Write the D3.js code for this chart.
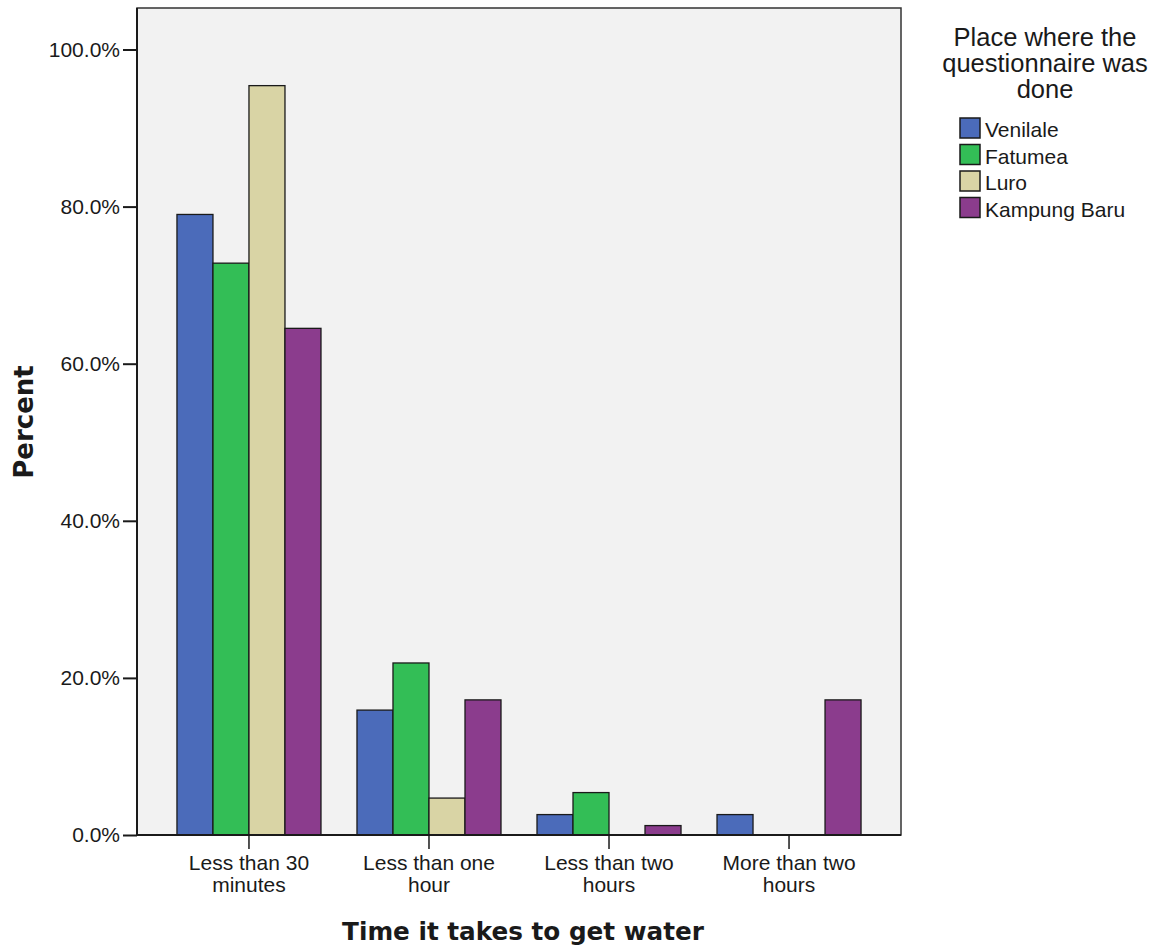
<!DOCTYPE html>
<html>
<head>
<meta charset="utf-8">
<script src="https://cdn.jsdelivr.net/npm/d3@7"></script>
<style>
  html, body { margin: 0; padding: 0; background: #ffffff; }
  svg { display: block; }
  text { fill: #1a1a1a; }
</style>
</head>
<body>
<svg id="chart" width="1156" height="950"></svg>
<script>
// ---- data ----
const categories = [
  ["Less than 30", "minutes"],
  ["Less than one", "hour"],
  ["Less than two", "hours"],
  ["More than two", "hours"]
];
const seriesNames = ["Venilale", "Fatumea", "Luro", "Kampung Baru"];
const seriesColors = ["#4B6BBA", "#33BE56", "#D9D4A5", "#8B3C8D"];
const venilale    = [79.0, 15.9, 2.6, 2.6];
const fatumea     = [72.8, 21.9, 5.4, 0.0];
const luro        = [95.4, 4.7, 0.0, 0.0];
const kampungBaru = [64.5, 17.2, 1.2, 17.2];
const yTicks = [0, 20, 40, 60, 80, 100];
const xTitle = "Time it takes to get water";
const yTitle = "Percent";
const legendTitle = ["Place where the", "questionnaire was", "done"];

const seriesValues = [venilale, fatumea, luro, kampungBaru];

// ---- layout ----
const svg = d3.select("#chart");
const plot = { left: 137, right: 901, top: 8, bottom: 835 };
const catKeys = categories.map((c, i) => i);

const x0 = d3.scaleBand().domain(catKeys).range([plot.left, plot.right])
  .paddingInner(0.2).paddingOuter(0.222);
const x1 = d3.scaleBand().domain(seriesNames).range([0, x0.bandwidth()]).padding(0);
const y = d3.scaleLinear().domain([0, 100]).range([plot.bottom, 49.5]);
const color = d3.scaleOrdinal().domain(seriesNames).range(seriesColors);

// plot background
svg.append("rect")
  .attr("x", plot.left).attr("y", plot.top)
  .attr("width", plot.right - plot.left).attr("height", plot.bottom - plot.top)
  .attr("fill", "#F2F2F2").attr("stroke", "#333").attr("stroke-width", 1.5);

// bars
const cells = [];
catKeys.forEach(ci => {
  seriesNames.forEach((s, si) => {
    cells.push({ cat: ci, series: s, value: seriesValues[si][ci] });
  });
});
svg.append("g").selectAll("rect")
  .data(cells.filter(d => d.value > 0))
  .join("rect")
  .attr("x", d => x0(d.cat) + x1(d.series))
  .attr("y", d => y(d.value))
  .attr("width", x1.bandwidth())
  .attr("height", d => y(0) - y(d.value))
  .attr("fill", d => color(d.series))
  .attr("stroke", "#1a1a1a").attr("stroke-width", 1.3);

// y axis
const yAxis = svg.append("g")
  .attr("transform", `translate(${plot.left},0)`)
  .call(d3.axisLeft(y).tickValues(yTicks).tickSize(14).tickPadding(3)
    .tickFormat(d => d.toFixed(1) + "%"));
yAxis.select(".domain").attr("d", `M0,${plot.top}V${plot.bottom}`)
  .attr("stroke", "#1a1a1a").attr("stroke-width", 2);
yAxis.selectAll(".tick line").attr("stroke", "#1a1a1a").attr("stroke-width", 2);
yAxis.selectAll(".tick text")
  .attr("font-family", "'Liberation Sans', Arial, sans-serif")
  .attr("font-size", 21).attr("fill", "#1a1a1a");

// x axis
const xAxis = svg.append("g")
  .attr("transform", `translate(0,${plot.bottom})`)
  .call(d3.axisBottom(x0).tickSize(14).tickFormat(""));
xAxis.select(".domain").attr("d", `M${plot.left},0H${plot.right}`)
  .attr("stroke", "#1a1a1a").attr("stroke-width", 2);
xAxis.selectAll(".tick line").attr("stroke", "#1a1a1a").attr("stroke-width", 1.5);
xAxis.selectAll(".tick").each(function (d) {
  const t = d3.select(this).append("text")
    .attr("text-anchor", "middle")
    .attr("font-family", "'Liberation Sans', Arial, sans-serif")
    .attr("font-size", 21).attr("fill", "#1a1a1a");
  categories[d].forEach((line, li) => {
    t.append("tspan").attr("x", 0).attr("y", 35 + li * 22).text(line);
  });
});

// axis titles
svg.append("text")
  .attr("x", (plot.left + plot.right) / 2 + 4).attr("y", 940)
  .attr("text-anchor", "middle")
  .attr("font-family", "'DejaVu Sans', sans-serif").attr("font-weight", "bold")
  .attr("font-size", 24.7).text(xTitle);
svg.append("text")
  .attr("transform", "translate(33,422) rotate(-90)")
  .attr("text-anchor", "middle")
  .attr("font-family", "'DejaVu Sans', sans-serif").attr("font-weight", "bold")
  .attr("font-size", 26).text(yTitle);

// legend
const lg = svg.append("g");
lg.append("text")
  .attr("text-anchor", "middle")
  .attr("font-family", "'Liberation Sans', Arial, sans-serif")
  .attr("font-size", 25.5)
  .selectAll("tspan").data(legendTitle).join("tspan")
  .attr("x", 1045).attr("y", (d, i) => 46 + i * 26).text(d => d);
const items = lg.selectAll("g.item").data(seriesNames).join("g")
  .attr("class", "item")
  .attr("transform", (d, i) => `translate(960,${118 + i * 26.5})`);
items.append("rect").attr("width", 20).attr("height", 20)
  .attr("fill", d => color(d)).attr("stroke", "#1a1a1a").attr("stroke-width", 1.5);
items.append("text").attr("x", 25).attr("y", 19)
  .attr("font-family", "'Liberation Sans', Arial, sans-serif")
  .attr("font-size", 21).text(d => d);
</script>
</body>
</html>
